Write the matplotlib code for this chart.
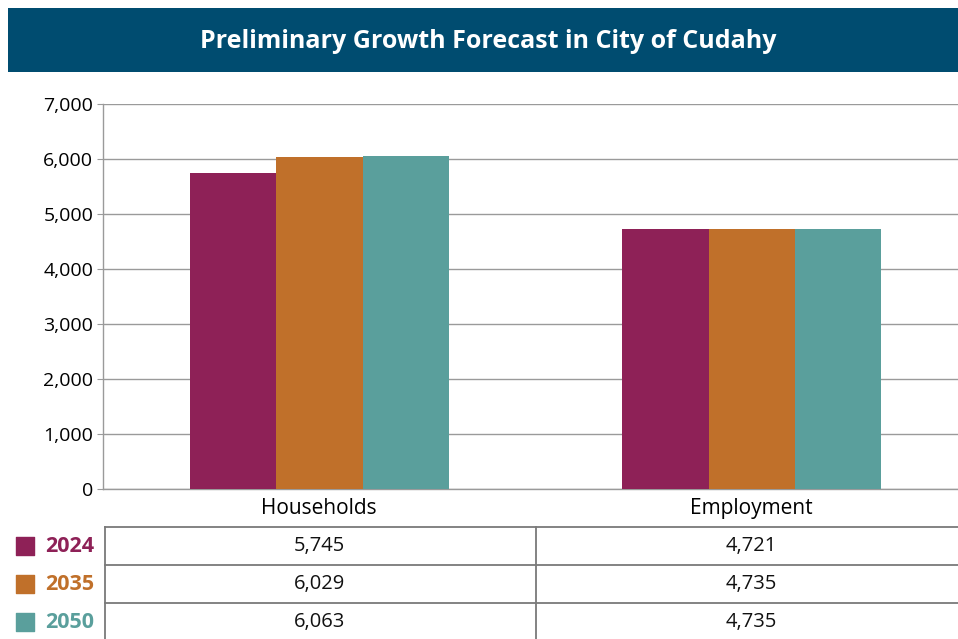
import matplotlib.pyplot as plt
from matplotlib.patches import Rectangle
from matplotlib.ticker import FuncFormatter
import numpy as np

plt.rcParams["font.family"] = ["Open Sans", "DejaVu Sans"]

TITLE = "Preliminary Growth Forecast in City of Cudahy"
CATEGORIES = ["Households", "Employment"]
YEARS = ["2024", "2035", "2050"]
VALUES_2024 = [5745, 4721]
VALUES_2035 = [6029, 4735]
VALUES_2050 = [6063, 4735]
Y_TICKS = [0, 1000, 2000, 3000, 4000, 5000, 6000, 7000]

COLORS = ["#8E2157", "#C0702A", "#5A9F9C"]
BANNER = "#004C70"
GRID = "#9A9A9A"

W, H = 958, 639
fig = plt.figure(figsize=(W / 100, H / 100), dpi=100)


def fx(px):
    return px / W


def fy(py):
    return 1 - py / H


# --- Title banner ---
fig.patches.append(Rectangle((fx(8), fy(72)), 1 - fx(8), fy(8) - fy(72),
                             transform=fig.transFigure, facecolor=BANNER,
                             edgecolor="none", zorder=0))
fig.text(fx(488), fy(41), TITLE, color="white", fontsize=18, fontweight="bold",
         ha="center", va="center")

# --- Bar chart ---
ax = fig.add_axes([fx(103), fy(489), fx(968) - fx(103), fy(104) - fy(489)])
series = [VALUES_2024, VALUES_2035, VALUES_2050]
x = np.arange(len(CATEGORIES))
bw = 0.2
for i, vals in enumerate(series):
    ax.bar(x + (i - 1) * bw, vals, width=bw, color=COLORS[i], zorder=3)

ax.set_xlim(-0.5, 1.5)
ax.set_ylim(0, 7000)
ax.set_yticks(Y_TICKS)
ax.yaxis.set_major_formatter(FuncFormatter(lambda v, _: f"{int(v):,}"))
ax.set_xticks(x)
ax.set_xticklabels(CATEGORIES, fontsize=15)
ax.tick_params(axis="y", labelsize=14, length=4, color=GRID, pad=3)
ax.tick_params(axis="x", length=4, color="#555555", direction="in", pad=6.5)
ax.grid(axis="y", color=GRID, linewidth=1, zorder=0)
for s in ["top", "right"]:
    ax.spines[s].set_visible(False)
for s in ["left", "bottom"]:
    ax.spines[s].set_color(GRID)
    ax.spines[s].set_linewidth(1)

# --- Data table ---
tab = fig.add_axes([fx(103), fy(641), fx(968) - fx(103), fy(527) - fy(641)])
tab.set_xlim(-0.5, 1.5)
tab.set_ylim(3, 0)
tab.axis("off")
line_kw = dict(color="#7A7A7A", linewidth=1.3, clip_on=False)
for r in range(4):
    tab.plot([-0.495, 1.5], [r, r], **line_kw)
for cx in [-0.495, 0.5]:
    tab.plot([cx, cx], [0, 3], **line_kw)

for r, (year, vals, col) in enumerate(zip(YEARS, series, COLORS)):
    tab.scatter([-0.681], [r + 0.5], marker="s", s=150, color=col, clip_on=False)
    tab.text(-0.634, r + 0.5, year, color=col, fontsize=15.5, fontweight="bold",
             ha="left", va="center")
    for c, v in enumerate(vals):
        tab.text(x[c], r + 0.5, f"{v:,}", fontsize=14.5, ha="center", va="center",
                 color="#111111")

fig.savefig("out.png", dpi=100)
